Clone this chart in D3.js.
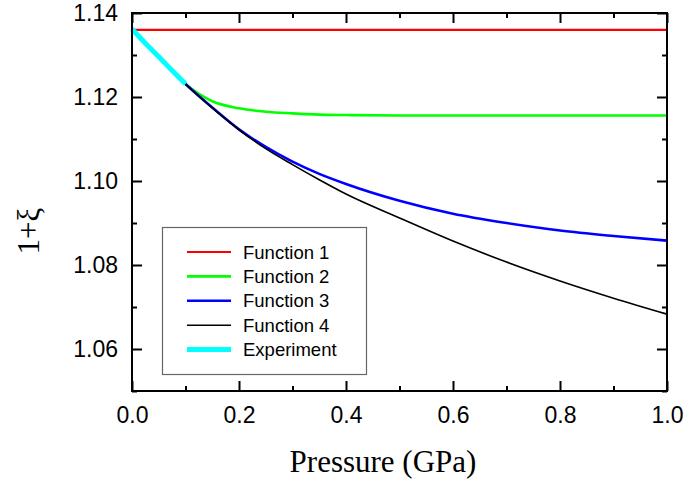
<!DOCTYPE html>
<html>
<head>
<meta charset="utf-8">
<script src="https://cdn.jsdelivr.net/npm/d3@7"></script>
<style>
  html, body { margin: 0; padding: 0; background: #fff; }
  svg { display: block; }
</style>
</head>
<body>
<svg id="chart" width="689" height="484"></svg>
<script>
// ---- data ----
const pressure = [0, 0.05, 0.1, 0.15, 0.2, 0.25, 0.3, 0.35, 0.4, 0.5, 0.6, 0.7, 0.8, 0.9, 1.0];
const function1 = [1.1360, 1.1360, 1.1360, 1.1360, 1.1360, 1.1360, 1.1360, 1.1360, 1.1360, 1.1360, 1.1360, 1.1360, 1.1360, 1.1360, 1.1360];
const function2 = [1.1360, 1.1295, 1.1231, 1.1190, 1.1173, 1.1165, 1.1161, 1.1158, 1.1157, 1.1156, 1.1156, 1.1156, 1.1156, 1.1156, 1.1156];
const function3 = [1.1360, 1.1295, 1.1231, 1.1175, 1.1123, 1.1081, 1.1046, 1.1017, 1.0993, 1.0953, 1.0922, 1.0900, 1.0882, 1.0869, 1.0858];
const function4 = [1.1360, 1.1295, 1.1231, 1.1174, 1.1122, 1.1077, 1.1039, 1.1003, 1.0969, 1.0912, 1.0857, 1.0807, 1.0762, 1.0721, 1.0683];
const expPressure = [0, 0.025, 0.05, 0.075, 0.1];
const experiment = [1.1362, 1.1328, 1.1296, 1.1263, 1.1231];
const xTicks = [0, 0.2, 0.4, 0.6, 0.8, 1.0];
const xMinor = [0.1, 0.3, 0.5, 0.7, 0.9];
const yTicks = [1.06, 1.08, 1.10, 1.12, 1.14];
const yMinor = [1.05, 1.07, 1.09, 1.11, 1.13];
const seriesNames = ["Function 1", "Function 2", "Function 3", "Function 4", "Experiment"];
const seriesColors = ["#ff0000", "#00ff00", "#0000ff", "#000000", "#00ffff"];

// ---- layout ----
const L = 132, R = 667, T = 13, B = 391;
const svg = d3.select("#chart");
const x = d3.scaleLinear().domain([0, 1.0]).range([L, R]);
const y = d3.scaleLinear().domain([1.05, 1.14]).range([B, T]);
const sans = "'Liberation Sans', Arial, Helvetica, sans-serif";
const serif = "'Liberation Serif', 'Times New Roman', Times, serif";

// ---- lines ----
const seriesData = [function1, function2, function3, function4];
const widths = [2.2, 2.6, 2.6, 1.6];
const line = d3.line().x(d => x(d[0])).y(d => y(d[1])).curve(d3.curveMonotoneX);
const g = svg.append("g");
seriesData.forEach((vals, i) => {
  g.append("path")
    .datum(pressure.map((p, k) => [p, vals[k]]))
    .attr("fill", "none")
    .attr("stroke", seriesColors[i])
    .attr("stroke-width", widths[i])
    .attr("d", line);
});
g.append("path")
  .datum(expPressure.map((p, k) => [p, experiment[k]]))
  .attr("fill", "none")
  .attr("stroke", seriesColors[4])
  .attr("stroke-width", 5)
  .attr("stroke-linecap", "butt")
  .attr("d", line);

// ---- axes ----
function styleAxis(sel) {
  sel.select(".domain").remove();
  sel.selectAll("line").attr("stroke", "#000").attr("stroke-width", 2);
}
const fmt = d3.format(".1f");
const fmtY = d3.format(".2f");

// bottom
const ax = svg.append("g").attr("transform", `translate(0,${B})`)
  .call(d3.axisBottom(x).tickValues(xTicks).tickSize(-10).tickFormat(fmt));
styleAxis(ax);
ax.selectAll("text").attr("y", 32).attr("dy", 0)
  .attr("font-family", sans).attr("font-size", 23).attr("fill", "#000");
svg.append("g").attr("transform", `translate(0,${B})`)
  .call(d3.axisBottom(x).tickValues(xMinor).tickSize(-5).tickFormat(""))
  .call(styleAxis);
// top
svg.append("g").attr("transform", `translate(0,${T})`)
  .call(d3.axisTop(x).tickValues(xTicks).tickSize(-10).tickFormat(""))
  .call(styleAxis);
svg.append("g").attr("transform", `translate(0,${T})`)
  .call(d3.axisTop(x).tickValues(xMinor).tickSize(-5).tickFormat(""))
  .call(styleAxis);
// left
const ay = svg.append("g").attr("transform", `translate(${L},0)`)
  .call(d3.axisLeft(y).tickValues(yTicks).tickSize(-10).tickFormat(fmtY));
styleAxis(ay);
ay.selectAll("text").attr("x", -14)
  .attr("font-family", sans).attr("font-size", 23).attr("fill", "#000");
svg.append("g").attr("transform", `translate(${L},0)`)
  .call(d3.axisLeft(y).tickValues(yMinor).tickSize(-5).tickFormat(""))
  .call(styleAxis);
// right
svg.append("g").attr("transform", `translate(${R},0)`)
  .call(d3.axisRight(y).tickValues(yTicks).tickSize(-10).tickFormat(""))
  .call(styleAxis);
svg.append("g").attr("transform", `translate(${R},0)`)
  .call(d3.axisRight(y).tickValues(yMinor).tickSize(-5).tickFormat(""))
  .call(styleAxis);

// frame
svg.append("rect").attr("x", L).attr("y", T).attr("width", R - L).attr("height", B - T)
  .attr("fill", "none").attr("stroke", "#000").attr("stroke-width", 2);

// ---- axis titles ----
svg.append("text").attr("x", 383).attr("y", 472).attr("text-anchor", "middle")
  .attr("font-family", serif).attr("font-size", 31).attr("fill", "#000")
  .text("Pressure (GPa)");
svg.append("text").attr("transform", "translate(39,231) rotate(-90)")
  .attr("text-anchor", "middle")
  .attr("font-family", serif).attr("font-size", 31).attr("fill", "#000")
  .text("1+ξ");

// ---- legend ----
const lg = svg.append("g");
lg.append("rect").attr("x", 162.5).attr("y", 227.5).attr("width", 204).attr("height", 147)
  .attr("fill", "#fff").attr("stroke", "#666").attr("stroke-width", 1.2);
const legendWidths = [2.2, 2.6, 2.6, 1.6, 5];
seriesNames.forEach((name, i) => {
  const yy = 252 + i * 24.4;
  lg.append("line").attr("x1", 187).attr("x2", 231).attr("y1", yy).attr("y2", yy)
    .attr("stroke", seriesColors[i]).attr("stroke-width", legendWidths[i]);
  lg.append("text").attr("x", 243).attr("y", yy).attr("dy", "0.36em")
    .attr("font-family", sans).attr("font-size", 18.5).attr("fill", "#000")
    .text(name);
});
</script>
</body>
</html>
